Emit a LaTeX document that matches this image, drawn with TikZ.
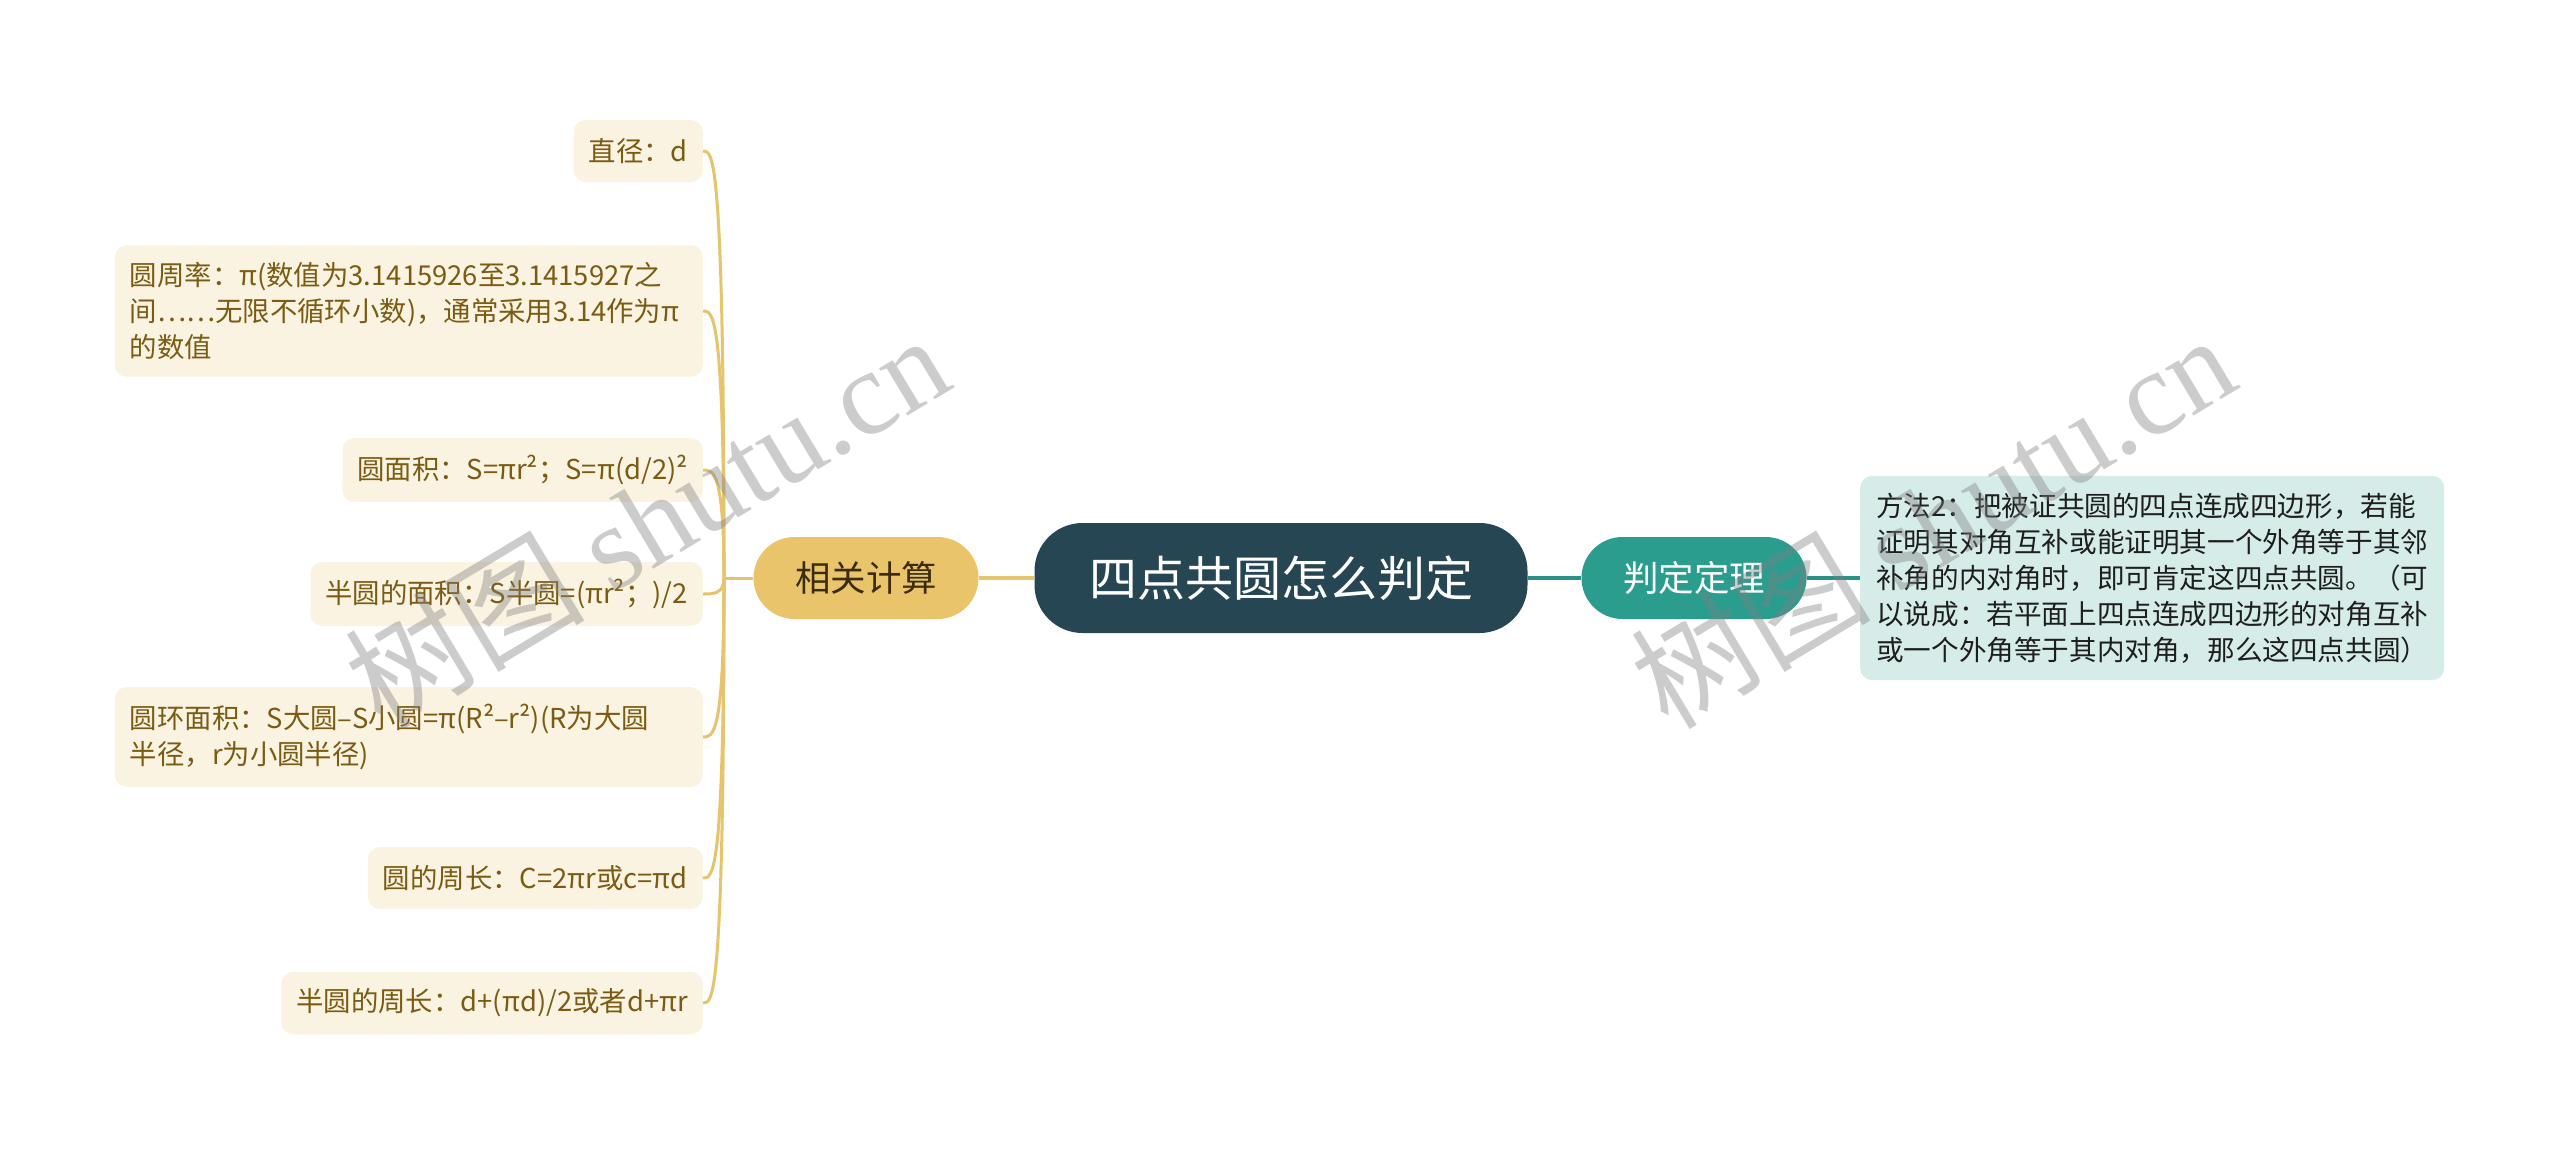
\documentclass[tikz,border=0pt]{standalone}
\usepackage{fontspec}
\setmainfont{Noto Sans CJK SC}
\newfontfamily\wmserif{Liberation Serif}
\definecolor{leaffill}{HTML}{FBF3E1}
\definecolor{leaftext}{HTML}{7B5B12}
\definecolor{goldc}{HTML}{E9C46A}
\definecolor{goldline}{HTML}{E6C46E}
\definecolor{rootc}{HTML}{264653}
\definecolor{tealc}{HTML}{2A9D8F}
\definecolor{tealline}{HTML}{2A9088}
\definecolor{notefill}{HTML}{D6ECE9}
\definecolor{notetext}{HTML}{1E1E1E}
\definecolor{calctext}{HTML}{3A2C0C}
\tikzset{
  leaf/.style={fill=leaffill, text=leaftext, rounded corners=12pt, inner xsep=15pt,
    inner ysep=17pt, minimum height=62pt, align=left, anchor=east,
    font=\fontsize{27.4}{36}\selectfont},
  wideleaf/.style={leaf, text width=558pt},
  pill/.style={rounded corners=41pt, minimum width=225pt, minimum height=82pt,
    inner sep=0pt, font=\fontsize{35.5}{40}\selectfont},
  rootbox/.style={fill=rootc, text=white, rounded corners=48pt, minimum width=493pt,
    minimum height=110pt, inner sep=0pt, font=\fontsize{48}{52}\selectfont},
  notebox/.style={fill=notefill, text=notetext, rounded corners=12pt, inner xsep=16pt,
    inner ysep=17pt, align=left, anchor=west, font=\fontsize{27.6}{36}\selectfont},
  leafline/.style={draw=goldline, line width=3pt},
  mainline/.style={line width=4.5pt},
  wmark/.style={text=gray, opacity=0.4, rotate=31, font=\fontsize{120}{120}\selectfont}
}
\begin{document}
\begin{tikzpicture}[x=1pt,y=-1pt]
\useasboundingbox (0,0) rectangle (2560,1149);
\fill[white] (0,0) rectangle (2560,1149);

% leaves
\node[leaf] (d1) at (703,151) {直径：d};
\node[wideleaf] (d2) at (703,311) {圆周率：π(数值为3.1415926至3.1415927之\\间……无限不循环小数)，通常采用3.14作为π\\的数值};
\node[leaf] (d3) at (703,470) {圆面积：S=πr²；S=π(d/2)²};
\node[leaf] (d4) at (703,594) {半圆的面积：S半圆=(πr²；)/2};
\node[wideleaf] (d5) at (703,737) {圆环面积：S大圆–S小圆=π(R²–r²)(R为大圆\\半径，r为小圆半径)};
\node[leaf] (d6) at (703,878) {圆的周长：C=2πr或c=πd};
\node[leaf] (d7) at (703,1003) {半圆的周长：d+(πd)/2或者d+πr};

% main nodes
\node[pill, fill=goldc, text=calctext] (calc) at (866,578) {相关计算};
\node[rootbox] (root) at (1281,578) {四点共圆怎么判定};
\node[pill, fill=tealc, text=white] (pd) at (1694,578) {判定定理};
\node[notebox] (note) at (1860,578) {方法2：把被证共圆的四点连成四边形，若能\\证明其对角互补或能证明其一个外角等于其邻\\补角的内对角时，即可肯定这四点共圆。（可\\以说成：若平面上四点连成四边形的对角互补\\或一个外角等于其内对角，那么这四点共圆）};

\coordinate (J) at (724,578);

% connectors
\foreach \n in {d1,d2,d3,d4,d5,d6,d7}{
  \draw[leafline] (J) .. controls (J |- \n.east) and ([xshift=10pt]\n.east) .. (\n.east);
}
\draw[leafline] (J) -- (calc.west);
\draw[mainline, draw=goldline] (calc.east) -- (root.west);
\draw[mainline, draw=tealline] (root.east) -- (pd.west);
\draw[mainline, draw=tealline] (pd.east) -- (note.west);

% watermarks
\node[wmark] (w1) at (646,520) {树图 {\wmserif shutu.cn}};
\node[wmark] (w2) at (1932,520) {树图 {\wmserif shutu.cn}};
\end{tikzpicture}
\end{document}
